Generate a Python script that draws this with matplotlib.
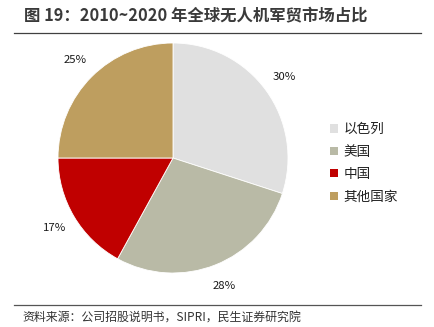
import matplotlib.pyplot as plt
from matplotlib.lines import Line2D
from matplotlib.patches import Patch

plt.rcParams['font.family'] = ['Noto Sans CJK SC', 'DejaVu Sans']

countries = ['以色列', '美国', '中国', '其他国家']
shares = [30, 28, 17, 25]
colors = ['#E0E0E0', '#B9BAA6', '#C00000', '#BE9E5F']

W, H = 434, 327
fig = plt.figure(figsize=(W / 100, H / 100), dpi=100)

# pie centre ~ (173,158) px, radius ~115 px
cx, cy, r = 173, 158, 115
ax = fig.add_axes([(cx - r) / W, (H - cy - r) / H, 2 * r / W, 2 * r / H])
wedges, texts, autotexts = ax.pie(
    shares, colors=colors, startangle=90, counterclock=False,
    autopct='%d%%', pctdistance=1.2, radius=1,
    wedgeprops=dict(linewidth=0.6, edgecolor='white'),
    textprops=dict(fontsize=8.2, color='#1a1a1a'))
ax.set_xlim(-1, 1)
ax.set_ylim(-1, 1)
ax.set_aspect('auto')
ax.axis('off')

handles = [Patch(facecolor=c, edgecolor='none') for c in colors]
fig.legend(handles, countries, loc='upper left',
           bbox_to_anchor=(318 / W, 1 - 110 / H), frameon=False,
           fontsize=9.8, handlelength=0.55, handleheight=0.55,
           handletextpad=0.45, labelspacing=0.62, labelcolor='#222222')

# title and rules
fig.text(24 / W, 1 - 16 / H, '图 19：2010~2020 年全球无人机军贸市场占比',
         fontsize=11.8, fontweight='bold', color='#3a3a3a', va='center')
fig.add_artist(Line2D([14 / W, 421 / W], [1 - 33 / H, 1 - 33 / H],
                      color='#404040', linewidth=0.9))
fig.add_artist(Line2D([14 / W, 421 / W], [1 - 305 / H, 1 - 305 / H],
                      color='#555555', linewidth=0.9))
fig.text(22 / W, 1 - 317 / H, '资料来源：公司招股说明书，SIPRI，民生证券研究院',
         fontsize=8.6, color='#333333', va='center')

fig.savefig('out.png', dpi=100)
